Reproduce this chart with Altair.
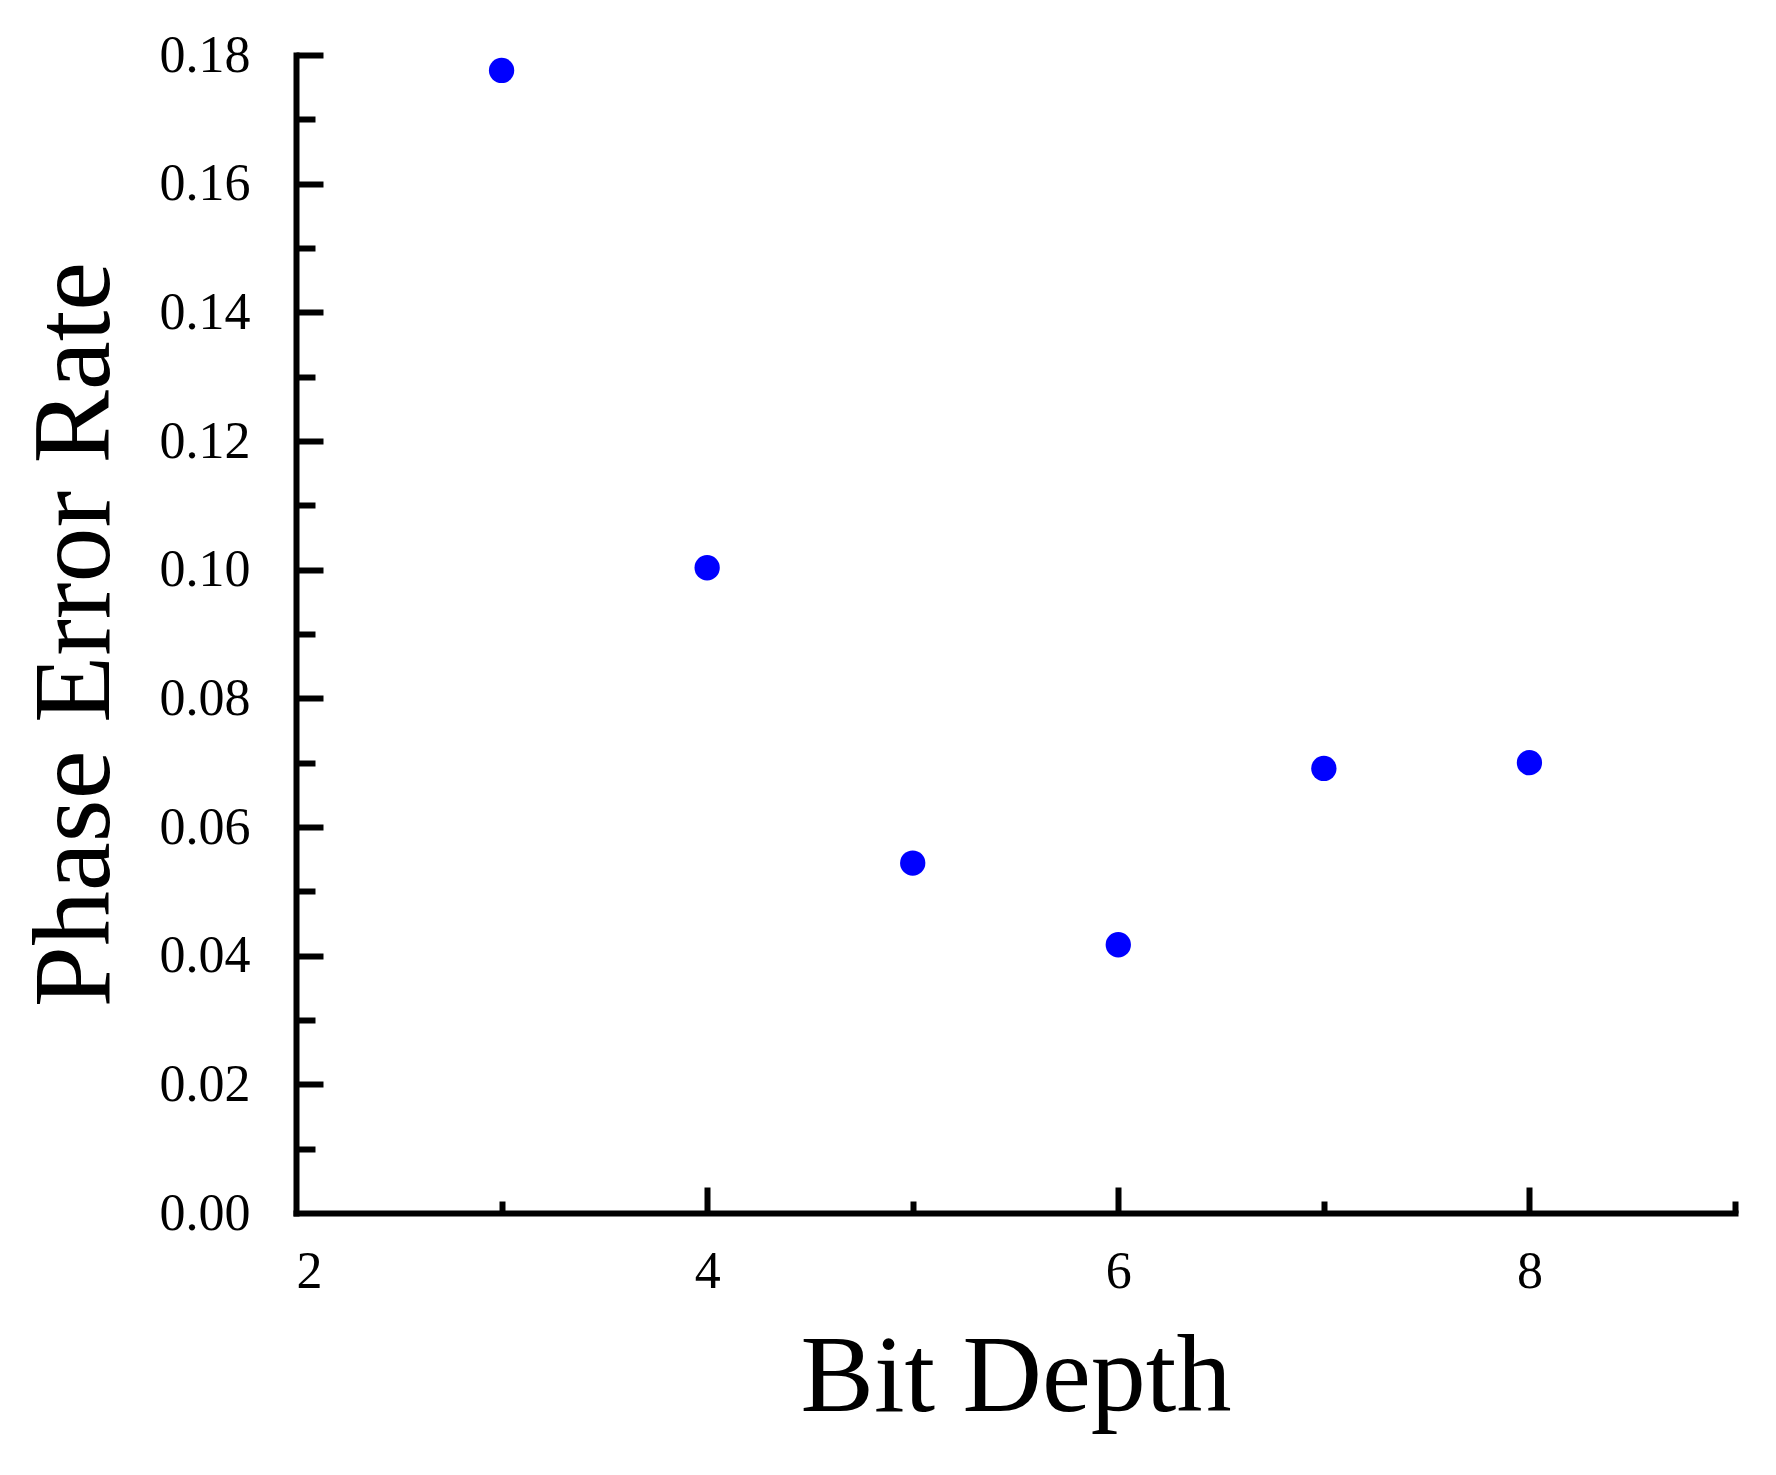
import altair as alt
import pandas as pd

# Data
bit_depth = [3, 4, 5, 6, 7, 8]
phase_error_rate = [0.1776, 0.1003, 0.0544, 0.0417, 0.0691, 0.0700]

# Axis tick values
y_label_values = [0.00, 0.02, 0.04, 0.06, 0.08, 0.10, 0.12, 0.14, 0.16, 0.18]
y_major_ticks = [0.02, 0.04, 0.06, 0.08, 0.10, 0.12, 0.14, 0.16, 0.18]
y_minor_ticks = [0.01, 0.03, 0.05, 0.07, 0.09, 0.11, 0.13, 0.15, 0.17]
x_label_values = [2, 4, 6, 8]
x_major_ticks = [4, 6, 8]
x_minor_ticks = [3, 5, 7, 9]

df = pd.DataFrame({"bit": bit_depth, "rate": phase_error_rate})

W, H = 1439, 1158
FONT = "Liberation Serif"
LW = 6
xscale = alt.Scale(domain=[2, 9], nice=False, zero=False)
yscale = alt.Scale(domain=[0, 0.18], nice=False)

base = alt.Chart(df)

points = base.mark_circle(size=640, color="#0000ff", opacity=1).encode(
    x=alt.X("bit:Q", scale=xscale,
            axis=alt.Axis(orient="bottom", values=x_label_values, format="d",
                          ticks=False, tickSize=0, domain=True, domainWidth=LW,
                          domainColor="black", domainCap="square", grid=False,
                          labelFont=FONT, labelFontSize=52, labelColor="black",
                          labelPadding=33, title="Bit Depth", titleFont=FONT,
                          titleFontSize=110, titleFontWeight="normal",
                          titleColor="black", titlePadding=26)),
    y=alt.Y("rate:Q", scale=yscale,
            axis=alt.Axis(orient="left", values=y_label_values, format=".2f",
                          ticks=False, tickSize=0, domain=True, domainWidth=LW,
                          domainColor="black", domainCap="square", grid=False,
                          labelFont=FONT, labelFontSize=52, labelColor="black",
                          labelPadding=46, title="Phase Error Rate", titleFont=FONT,
                          titleFontSize=110, titleFontWeight="normal",
                          titleColor="black", titlePadding=28)),
)

major = base.mark_circle(opacity=0, size=0).encode(
    x=alt.X("bit:Q", scale=xscale,
            axis=alt.Axis(orient="top", offset=-H, values=x_major_ticks, ticks=True,
                          tickSize=26, tickWidth=LW, tickColor="black", labels=False,
                          domain=False, grid=False, title=None)),
    y=alt.Y("rate:Q", scale=yscale,
            axis=alt.Axis(orient="right", offset=-W, values=y_major_ticks, ticks=True,
                          tickSize=27, tickWidth=LW, tickColor="black", labels=False,
                          domain=False, grid=False, title=None)),
)

minor = base.mark_circle(opacity=0, size=0).encode(
    x=alt.X("bit:Q", scale=xscale,
            axis=alt.Axis(orient="top", offset=-H, values=x_minor_ticks, ticks=True,
                          tickSize=12, tickWidth=LW, tickColor="black", labels=False,
                          domain=False, grid=False, title=None)),
    y=alt.Y("rate:Q", scale=yscale,
            axis=alt.Axis(orient="right", offset=-W, values=y_minor_ticks, ticks=True,
                          tickSize=19, tickWidth=LW, tickColor="black", labels=False,
                          domain=False, grid=False, title=None)),
)

chart = alt.layer(points, major, minor).resolve_axis(
    x="independent", y="independent"
).properties(
    width=W, height=H,
    autosize=alt.AutoSizeParams(type="none"),
    padding={"left": 288, "top": 47, "right": 33, "bottom": 246},
    background="white",
).configure_view(stroke=None)

chart.save("out.html", embed_options={"renderer": "svg", "actions": False})
